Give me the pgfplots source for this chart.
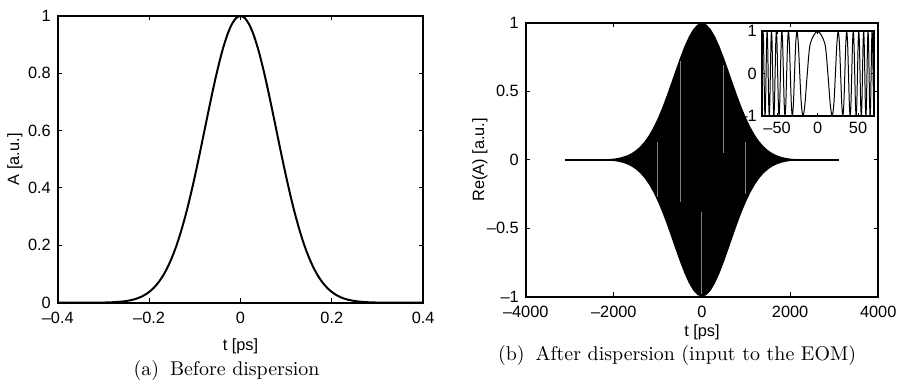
\documentclass[border=0pt]{standalone}
\usepackage{fontspec}
\usepackage{pgfplots}
\pgfplotsset{compat=1.18}
\usepackage{pgfplotstable}
\newfontfamily\arial[Ligatures=TeX]{Liberation Sans}

\pgfplotstableread{
t A
-0.40 0
-0.35 0.00004
-0.30 0.0006
-0.28 0.0016
-0.26 0.0039
-0.25 0.0059
-0.24 0.0088
-0.23 0.0129
-0.22 0.0187
-0.21 0.0267
-0.20 0.0374
-0.19 0.0515
-0.18 0.0698
-0.17 0.0930
-0.16 0.1220
-0.15 0.1574
-0.14 0.1997
-0.13 0.2494
-0.12 0.3062
-0.11 0.3699
-0.10 0.4396
-0.09 0.5139
-0.08 0.5910
-0.07 0.6685
-0.06 0.7439
-0.05 0.8142
-0.04 0.8768
-0.03 0.9287
-0.02 0.9677
-0.01 0.9918
0.00 1
0.01 0.9918
0.02 0.9677
0.03 0.9287
0.04 0.8768
0.05 0.8142
0.06 0.7439
0.07 0.6685
0.08 0.5910
0.09 0.5139
0.10 0.4396
0.11 0.3699
0.12 0.3062
0.13 0.2494
0.14 0.1997
0.15 0.1574
0.16 0.1220
0.17 0.0930
0.18 0.0698
0.19 0.0515
0.20 0.0374
0.21 0.0267
0.22 0.0187
0.23 0.0129
0.24 0.0088
0.25 0.0059
0.26 0.0039
0.28 0.0016
0.30 0.0006
0.35 0.00004
0.40 0
}\pulsetab

% closed outline of the envelope: upper edge left to right, lower edge right to left
\pgfplotstableread{
t a
-3100 0
-2800 0.0001
-2600 0.0003
-2400 0.0011
-2200 0.0033
-2000 0.0088
-1900 0.0140
-1800 0.0216
-1700 0.0327
-1600 0.0483
-1500 0.0698
-1400 0.0983
-1300 0.1353
-1200 0.1819
-1100 0.2388
-1000 0.3062
-900 0.3834
-800 0.4689
-700 0.5600
-600 0.6531
-500 0.7439
-400 0.8275
-300 0.8990
-200 0.9538
-100 0.9882
0 1
100 0.9882
200 0.9538
300 0.8990
400 0.8275
500 0.7439
600 0.6531
700 0.5600
800 0.4689
900 0.3834
1000 0.3062
1100 0.2388
1200 0.1819
1300 0.1353
1400 0.0983
1500 0.0698
1600 0.0483
1700 0.0327
1800 0.0216
1900 0.0140
2000 0.0088
2200 0.0033
2400 0.0011
2600 0.0003
2800 0.0001
3100 0
2800 -0.0001
2600 -0.0003
2400 -0.0011
2200 -0.0033
2000 -0.0088
1900 -0.0140
1800 -0.0216
1700 -0.0327
1600 -0.0483
1500 -0.0698
1400 -0.0983
1300 -0.1353
1200 -0.1819
1100 -0.2388
1000 -0.3062
900 -0.3834
800 -0.4689
700 -0.5600
600 -0.6531
500 -0.7439
400 -0.8275
300 -0.8990
200 -0.9538
100 -0.9882
0 -1
-100 -0.9882
-200 -0.9538
-300 -0.8990
-400 -0.8275
-500 -0.7439
-600 -0.6531
-700 -0.5600
-800 -0.4689
-900 -0.3834
-1000 -0.3062
-1100 -0.2388
-1200 -0.1819
-1300 -0.1353
-1400 -0.0983
-1500 -0.0698
-1600 -0.0483
-1700 -0.0327
-1800 -0.0216
-1900 -0.0140
-2000 -0.0088
-2200 -0.0033
-2400 -0.0011
-2600 -0.0003
-2800 -0.0001
-3100 0
}\envtab

\pgfplotstableread{
t y
-70.292 -0.7071
-69.714 -1
-69.130 -0.7071
-68.542 0
-67.948 0.7071
-67.350 1
-66.746 0.7071
-66.136 0
-65.521 -0.7071
-64.900 -1
-64.273 -0.7071
-63.640 0
-63.000 0.7071
-62.354 1
-61.701 0.7071
-61.041 0
-60.374 -0.7071
-59.699 -1
-59.017 -0.7071
-58.327 0
-57.628 0.7071
-56.921 1
-56.205 0.7071
-55.480 0
-54.745 -0.7071
-54.000 -1
-53.245 -0.7071
-52.479 0
-51.701 0.7071
-50.912 1
-50.110 0.7071
-49.295 0
-48.466 -0.7071
-47.624 -1
-46.765 -0.7071
-45.891 0
-45.000 0.7071
-44.091 1
-43.162 0.7071
-42.214 0
-41.243 -0.7071
-40.249 -1
-39.230 -0.7071
-38.184 0
-37.108 0.7071
-36.000 1
-34.857 0.7071
-33.675 0
-32.450 -0.7071
-31.177 -1
-29.850 -0.7071
-28.460 0
-27.000 0.7071
-25.456 1
-23.812 0.7071
-22.045 0
-20.125 -0.7071
-18.000 -1
-15.588 -0.7071
-12.728 0
-9.000 0.7071
0 1
9.000 0.7071
12.728 0
15.588 -0.7071
18.000 -1
20.125 -0.7071
22.045 0
23.812 0.7071
25.456 1
27.000 0.7071
28.460 0
29.850 -0.7071
31.177 -1
32.450 -0.7071
33.675 0
34.857 0.7071
36.000 1
37.108 0.7071
38.184 0
39.230 -0.7071
40.249 -1
41.243 -0.7071
42.214 0
43.162 0.7071
44.091 1
45.000 0.7071
45.891 0
46.765 -0.7071
47.624 -1
48.466 -0.7071
49.295 0
50.110 0.7071
50.912 1
51.701 0.7071
52.479 0
53.245 -0.7071
54.000 -1
54.745 -0.7071
55.480 0
56.205 0.7071
56.921 1
57.628 0.7071
58.327 0
59.017 -0.7071
59.699 -1
60.374 -0.7071
61.041 0
61.701 0.7071
62.354 1
63.000 0.7071
63.640 0
64.273 -0.7071
64.900 -1
65.521 -0.7071
66.136 0
66.746 0.7071
67.350 1
67.948 0.7071
68.542 0
69.130 -0.7071
69.714 -1
70.292 -0.7071
}\chirptab

\pgfplotsset{
  mat/.style={
    scale only axis,
    axis line style={line width=0.9pt},
    every tick/.style={black, line width=0.5pt},
    major tick length=2.2pt,
    tick align=inside,
    tick label style={font=\arial\fontsize{8.2}{9}\selectfont},
    label style={font=\arial\fontsize{8.2}{9}\selectfont},
  }
}

\begin{document}
\begin{tikzpicture}
\draw[white, line width=0pt] (0,0) rectangle (451.5pt,192.5pt);

% (a)
\begin{axis}[mat,
  at={(29pt,40.5pt)}, anchor=south west,
  width=183.5pt, height=144pt,
  xmin=-0.4, xmax=0.4, ymin=0, ymax=1,
  xtick={-0.4,-0.2,0,0.2,0.4},
  xticklabels={--0.4,--0.2,0,0.2,0.4},
  ytick={0,0.2,0.4,0.6,0.8,1},
  yticklabels={0,0.2,0.4,0.6,0.8,1},
  xticklabel style={yshift=-1pt},
  xlabel={t [ps]}, ylabel={A [a.u.]},
  xlabel style={at={(axis description cs:0.5,-0.153)}, anchor=center},
  ylabel style={at={(axis description cs:-0.117,0.5)}, anchor=center},
]
\addplot[black, line width=1pt, smooth] table[x=t, y=A] {\pulsetab};
\end{axis}

% (b)
\begin{axis}[mat,
  at={(264pt,43.5pt)}, anchor=south west,
  width=177pt, height=137.5pt,
  xmin=-4000, xmax=4000, ymin=-1, ymax=1,
  scaled x ticks=false,
  xtick={-4000,-2000,0,2000,4000},
  xticklabels={--4000,--2000,0,2000,4000},
  ytick={-1,-0.5,0,0.5,1},
  yticklabels={--1,--0.5,0,0.5,1},
  xticklabel style={yshift=-1pt},
  xlabel={t [ps]}, ylabel={Re(A) [a.u.]},
  xlabel style={at={(axis description cs:0.5,-0.131)}, anchor=center},
  ylabel style={at={(axis description cs:-0.13,0.5)}, anchor=center},
]
\addplot[draw=none, fill=black] table[x=t, y=a] {\envtab} -- cycle;
\addplot[black, line width=0.8pt] coordinates {(-3100,0) (3100,0)};
\addplot[black!50, line width=0.25pt] coordinates {(-1017,0.127) (-1017,-0.27)};
\addplot[black!50, line width=0.25pt] coordinates {(-504,0.72) (-504,-0.31)};
\addplot[black!50, line width=0.25pt] coordinates {(972,0.127) (972,-0.25)};
\addplot[black!50, line width=0.25pt] coordinates {(474,0.69) (474,0.05)};
\addplot[black!50, line width=0.25pt] coordinates {(-23,-0.38) (-23,-0.98)};
\end{axis}

% inset
\begin{axis}[mat,
  at={(382.5pt,134.25pt)}, anchor=south west,
  width=56.5pt, height=42.5pt,
  axis background/.style={fill=white},
  axis line style={line width=1.1pt},
  major tick length=1.5pt,
  xmin=-69, xmax=70, ymin=-1, ymax=1,
  xtick={-50,0,50},
  xticklabels={--50,0,50},
  ytick={-1,0,1},
  yticklabels={--1,0,1},
  xticklabel style={yshift=0.5pt},
  yticklabel style={xshift=1pt},
]
\addplot[black, line width=0.5pt, smooth] table[x=t, y=y] {\chirptab};
\end{axis}

\node[font=\normalsize] at (113.75pt,6.5pt) {(a)\hspace{0.55em}Before dispersion};
\node[font=\normalsize] at (340pt,14pt) {(b)\hspace{0.55em}After dispersion (input to the EOM)};
\end{tikzpicture}
\end{document}
